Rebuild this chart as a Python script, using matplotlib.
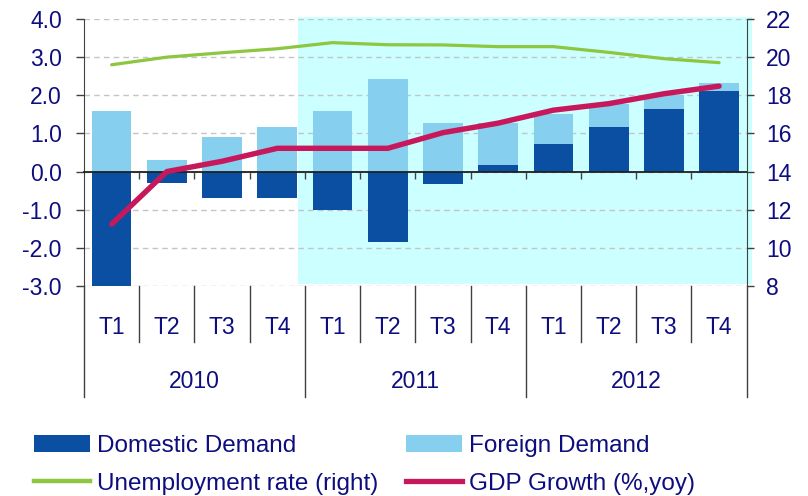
import numpy as np
import matplotlib
matplotlib.use("Agg")
import matplotlib.pyplot as plt
from matplotlib.transforms import blended_transform_factory
from matplotlib.patches import Rectangle, Patch
from matplotlib.lines import Line2D

plt.rcParams['font.family'] = ['Liberation Sans', 'DejaVu Sans']

# ---- data ----
quarters = ["T1", "T2", "T3", "T4"] * 3
years = ["2010", "2011", "2012"]
domestic = [-3.0, -0.3, -0.7, -0.7, -1.0, -1.85, -0.33, 0.18, 0.71, 1.18, 1.65, 2.12]
foreign = [1.6, 0.3, 0.9, 1.18, 1.6, 2.44, 1.28, 1.1, 0.8, 0.6, 0.35, 0.19]
gdp = [-1.38, 0.0, 0.27, 0.61, 0.61, 0.61, 1.02, 1.27, 1.61, 1.78, 2.04, 2.24]
unemployment = [19.6, 20.0, 20.23, 20.44, 20.76, 20.65, 20.64, 20.55, 20.55, 20.25, 19.92, 19.71]
left_ticks = [-3.0, -2.0, -1.0, 0.0, 1.0, 2.0, 3.0, 4.0]
right_ticks = [8, 10, 12, 14, 16, 18, 20, 22]

# ---- style ----
NAVY = '#0d0d80'
DARK = '#0a4fa2'
LIGHT = '#87cfef'
SHADE = '#ccffff'
GREEN = '#8dc63f'
RED = '#c8185c'
AXC = '#404040'
FS = 16.5
LFS = 17.5

W, H = 808, 496
fig = plt.figure(figsize=(W / 100, H / 100), dpi=100)
L, R, T, B = 84, 746.7, 19, 286
ax = fig.add_axes([L / W, 1 - B / H, (R - L) / W, (B - T) / H])

n = len(quarters)
x = np.arange(n)
dom = np.array(domestic)
fgn = np.array(foreign)

ax.set_xlim(-0.5, n - 0.5)
ax.set_ylim(left_ticks[0], left_ticks[-1])

# shaded forecast region (axes coords)
ax.add_patch(Rectangle((0.323, 0.0075), 0.6846, 1.0, transform=ax.transAxes,
                       facecolor=SHADE, edgecolor='none', zorder=0, clip_on=False))

ax.set_axisbelow(True)
ax.yaxis.grid(True, color='#c4c4c4', linestyle=(0, (4, 3)), linewidth=1.0)

ax.bar(x, dom, width=0.72, color=DARK, zorder=1)
ax.bar(x, fgn, width=0.72, bottom=np.where(dom > 0, dom, 0), color=LIGHT, zorder=1)
ax.plot(x, gdp, color=RED, lw=3.9, solid_capstyle='round', solid_joinstyle='round', zorder=3)

ax.set_yticks(left_ticks)
ax.set_yticklabels([f"{v:.1f}" for v in left_ticks], color=NAVY, fontsize=FS)
ax.tick_params(axis='y', direction='out', length=6, width=1, color=AXC, pad=10)

ax.spines['top'].set_visible(False)
ax.spines['right'].set_visible(False)
ax.spines['left'].set_color(AXC)
ax.spines['bottom'].set_position(('data', 0))
ax.spines['bottom'].set_color('#202020')
ax.spines['bottom'].set_linewidth(1.3)
ax.set_xticks(np.arange(0.5, n - 1, 1))
ax.set_xticklabels([])
ax.tick_params(axis='x', direction='out', length=5, width=1, color=AXC)

# right axis
ax2 = ax.twinx()
ax2.set_ylim(right_ticks[0], right_ticks[-1])
ax2.plot(x, unemployment, color=GREEN, lw=2.3, solid_capstyle='round', zorder=3)
ax2.set_yticks(right_ticks)
ax2.set_yticklabels([str(v) for v in right_ticks], color=NAVY, fontsize=FS)
ax2.tick_params(axis='y', direction='out', length=5, width=1, color=AXC, pad=9)
for s in ['top', 'bottom', 'left']:
    ax2.spines[s].set_visible(False)
ax2.spines['right'].set_color(AXC)

# category axis labels and separators
tr = blended_transform_factory(ax.transData, ax.transAxes)
yq = -(327 - B) / (B - T)
yy = -(381 - B) / (B - T)
ysep_short = -(342 - B) / (B - T)
ysep_long = -(397 - B) / (B - T)
for i, q in enumerate(quarters):
    ax.text(i, yq, q, transform=tr, ha='center', va='center', color=NAVY, fontsize=FS)
for g, yr in enumerate(years):
    ax.text(g * 4 + 1.5, yy, yr, transform=tr, ha='center', va='center', color=NAVY, fontsize=FS)
for k in range(n + 1):
    b = k - 0.5
    y1 = ysep_long if k % 4 == 0 else ysep_short
    ax.add_line(Line2D([b, b], [0, y1], transform=tr, color=AXC, lw=1, clip_on=False))

# legend
handles = [Patch(facecolor=DARK, edgecolor='none'),
           Line2D([], [], color=GREEN, lw=3.2),
           Patch(facecolor=LIGHT, edgecolor='none'),
           Line2D([], [], color=RED, lw=3.8)]
labels = ["Domestic Demand", "Unemployment rate (right)", "Foreign Demand", "GDP Growth (%,yoy)"]
leg = fig.legend(handles, labels, ncol=2, loc='upper left',
                 bbox_to_anchor=(34 / W, 1 - 435 / H), frameon=False,
                 borderpad=0, borderaxespad=0, handlelength=2.3, handleheight=0.65,
                 handletextpad=0.29, columnspacing=1.14, labelspacing=0.64,
                 fontsize=LFS)
for t in leg.get_texts():
    t.set_color(NAVY)

fig.savefig('out.png', dpi=100)
